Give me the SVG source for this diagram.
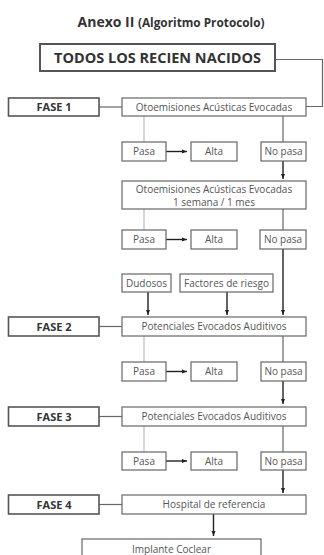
<svg xmlns="http://www.w3.org/2000/svg" width="324" height="555" viewBox="0 0 324 555">
<defs>
<marker id="ah" viewBox="0 0 10 10" refX="10" refY="5" markerWidth="5" markerHeight="5" orient="auto" markerUnits="userSpaceOnUse">
<path d="M0,1 L10,5 L0,9 z" fill="#222"/>
</marker>
</defs>
<style>
.box{fill:#fff;stroke:#666;stroke-width:1.2}
.fase{fill:#fff;stroke:#555;stroke-width:1.6}
.t{font-family:"Open Sans","Liberation Sans",sans-serif;font-size:10px;fill:#555;text-anchor:middle}
.b{font-family:"Open Sans","Liberation Sans",sans-serif;font-weight:bold;fill:#333;text-anchor:middle}
.c{fill:none;stroke:#666;stroke-width:1.2}
.l{fill:none;stroke:#bbb;stroke-width:1.2}
.a{fill:none;stroke:#222;stroke-width:1.4;marker-end:url(#ah)}
</style>
<rect width="324" height="555" fill="#fff"/>
<text x="171" y="27" class="b" font-size="14">Anexo II <tspan font-size="11.8">(Algoritmo Protocolo)</tspan></text>

<g id="connectors">
<path class="c" d="M275,59.5 H322.5 V106.5 H306"/>
<path class="c" d="M99,107 H122"/>
<path class="c" d="M99,326.5 H122"/>
<path class="c" d="M99,416.5 H122"/>
<path class="c" d="M99,504.5 H122"/>
<path class="l" d="M144,116 V142"/>
<path class="l" d="M144,209 V230"/>
<path class="l" d="M144,336 V362"/>
<path class="l" d="M144,426 V452"/>
<path class="c" d="M283,116 V142"/>
<path class="c" d="M283,209 V230"/>
<path class="c" d="M283,336 V362"/>
<path class="c" d="M283,426 V452"/>
<path class="a" d="M283,161 V179"/>
<path class="a" d="M283,249 V315"/>
<path class="a" d="M283,381 V404"/>
<path class="a" d="M283,470 V493"/>
<path class="a" d="M148,292 V315"/>
<path class="a" d="M227,292 V315"/>
<path class="a" d="M213.5,514 V536"/>
<path class="a" d="M166,151.5 H187"/>
<path class="a" d="M166,239.5 H187"/>
<path class="a" d="M166,371.5 H187"/>
<path class="a" d="M166,461 H187"/>
</g>

<g id="todos"><rect x="40" y="44" width="235" height="27" fill="#fff" stroke="#555" stroke-width="2"/><text x="157.5" y="63" class="b" font-size="14.5">TODOS LOS RECIEN NACIDOS</text></g>

<g id="fase1"><rect class="fase" x="8.5" y="98" width="90.5" height="18"/><text x="54" y="111" class="b" font-size="11">FASE 1</text></g>
<g id="oae1"><rect class="box" x="122" y="98" width="184" height="18"/><text x="214" y="110.5" class="t">Otoemisiones Acústicas Evocadas</text></g>

<g id="pasa1"><rect class="box" x="122" y="142" width="44" height="19"/><text x="144" y="155" class="t">Pasa</text></g>
<g id="alta1"><rect class="box" x="191" y="142" width="46" height="19"/><text x="214" y="155" class="t">Alta</text></g>
<g id="nopasa1"><rect class="box" x="261" y="142" width="45" height="19"/><text x="283.5" y="155" class="t">No pasa</text></g>

<g id="oae2"><rect class="box" x="122" y="181" width="184" height="28"/><text x="214" y="192.5" class="t" font-size="9.5">Otoemisiones Acústicas Evocadas</text><text x="214" y="205.5" class="t" font-size="9">1 semana / 1 mes</text></g>

<g id="pasa2"><rect class="box" x="122" y="230" width="44" height="19"/><text x="144" y="243" class="t">Pasa</text></g>
<g id="alta2"><rect class="box" x="191" y="230" width="46" height="19"/><text x="214" y="243" class="t">Alta</text></g>
<g id="nopasa2"><rect class="box" x="260" y="230" width="46" height="19"/><text x="283" y="243" class="t">No pasa</text></g>

<g id="dudosos"><rect class="box" x="122" y="274" width="49" height="18"/><text x="146.5" y="286.5" class="t">Dudosos</text></g>
<g id="factores"><rect class="box" x="180" y="274" width="93" height="18"/><text x="226.5" y="286.5" class="t">Factores de riesgo</text></g>

<g id="fase2"><rect class="fase" x="8.5" y="317" width="90.5" height="19"/><text x="54" y="330.5" class="b" font-size="11">FASE 2</text></g>
<g id="pea1"><rect class="box" x="122" y="317" width="184" height="19"/><text x="214" y="330" class="t">Potenciales Evocados Auditivos</text></g>

<g id="pasa3"><rect class="box" x="122" y="362" width="44" height="19"/><text x="144" y="375" class="t">Pasa</text></g>
<g id="alta3"><rect class="box" x="191" y="362" width="46" height="19"/><text x="214" y="375" class="t">Alta</text></g>
<g id="nopasa3"><rect class="box" x="261" y="362" width="45" height="19"/><text x="283.5" y="375" class="t">No pasa</text></g>

<g id="fase3"><rect class="fase" x="8.5" y="407" width="90.5" height="19"/><text x="54" y="420.5" class="b" font-size="11">FASE 3</text></g>
<g id="pea2"><rect class="box" x="122" y="407" width="184" height="19"/><text x="214" y="420" class="t">Potenciales Evocados Auditivos</text></g>

<g id="pasa4"><rect class="box" x="122" y="452" width="44" height="18"/><text x="144" y="464.5" class="t">Pasa</text></g>
<g id="alta4"><rect class="box" x="191" y="452" width="46" height="18"/><text x="214" y="464.5" class="t">Alta</text></g>
<g id="nopasa4"><rect class="box" x="261" y="452" width="45" height="18"/><text x="283.5" y="464.5" class="t">No pasa</text></g>

<g id="fase4"><rect class="fase" x="8.5" y="495" width="90.5" height="19"/><text x="54" y="508.5" class="b" font-size="11">FASE 4</text></g>
<g id="hospital"><rect class="box" x="122" y="495" width="184" height="19"/><text x="214" y="508" class="t">Hospital de referencia</text></g>

<g id="implante"><rect class="box" x="82" y="539" width="179" height="20"/><text x="171.5" y="553" class="t">Implante Coclear</text></g>
</svg>
